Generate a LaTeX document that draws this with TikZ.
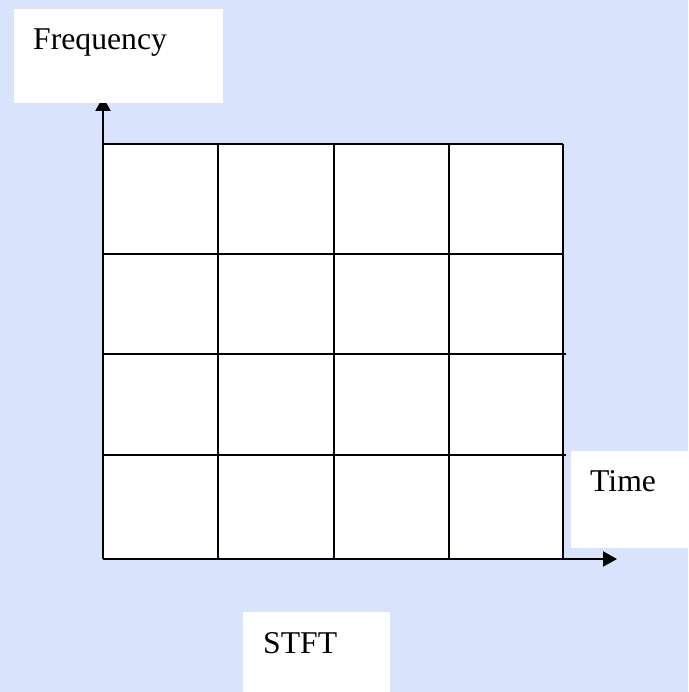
\documentclass[tikz,border=0pt]{standalone}
\usepackage{fontspec}
\setmainfont{Liberation Serif}
\usetikzlibrary{arrows.meta}
\definecolor{bgblue}{RGB}{217,228,252}
\tikzset{
  whitebox/.style={fill=white, draw=none},
  lbl/.style={anchor=base west, inner sep=0pt, font=\fontsize{31.7}{38}\selectfont},
  axis/.style={line width=2.2pt, -{Triangle[length=14pt,width=15pt]}},
  gridline/.style={line width=1.6pt},
}
\begin{document}
\begin{tikzpicture}[x=1pt,y=-1pt]
\fill[bgblue] (0,0) rectangle (688,692);
\useasboundingbox (0,0) rectangle (688,692);
% grid cells
\fill[white] (103,144) rectangle (563,559);
\foreach \yy/\xe in {144/563,254/563,354/566,455/566}
  \draw[gridline] (103,\yy) -- (\xe,\yy);
\foreach \xx in {218,334,449,563}
  \draw[gridline] (\xx,144) -- (\xx,559);
% axes
\coordinate (O) at (103,559);
\coordinate (ytip) at (103,97);
\coordinate (xtip) at (617,559);
\draw[axis] (O) -- (ytip);
\draw[axis] (O) -- (xtip);
% label boxes
\fill[whitebox] (14,9) rectangle (223,103);
\fill[whitebox] (571,451) rectangle (688,548);
\fill[whitebox] (243,612) rectangle (390,692);
\node[lbl] (freq) at (33,50) {Frequency};
\node[lbl] (time) at (590,491) {Time};
\node[lbl] (stft) at (263,653) {STFT};
\end{tikzpicture}
\end{document}
